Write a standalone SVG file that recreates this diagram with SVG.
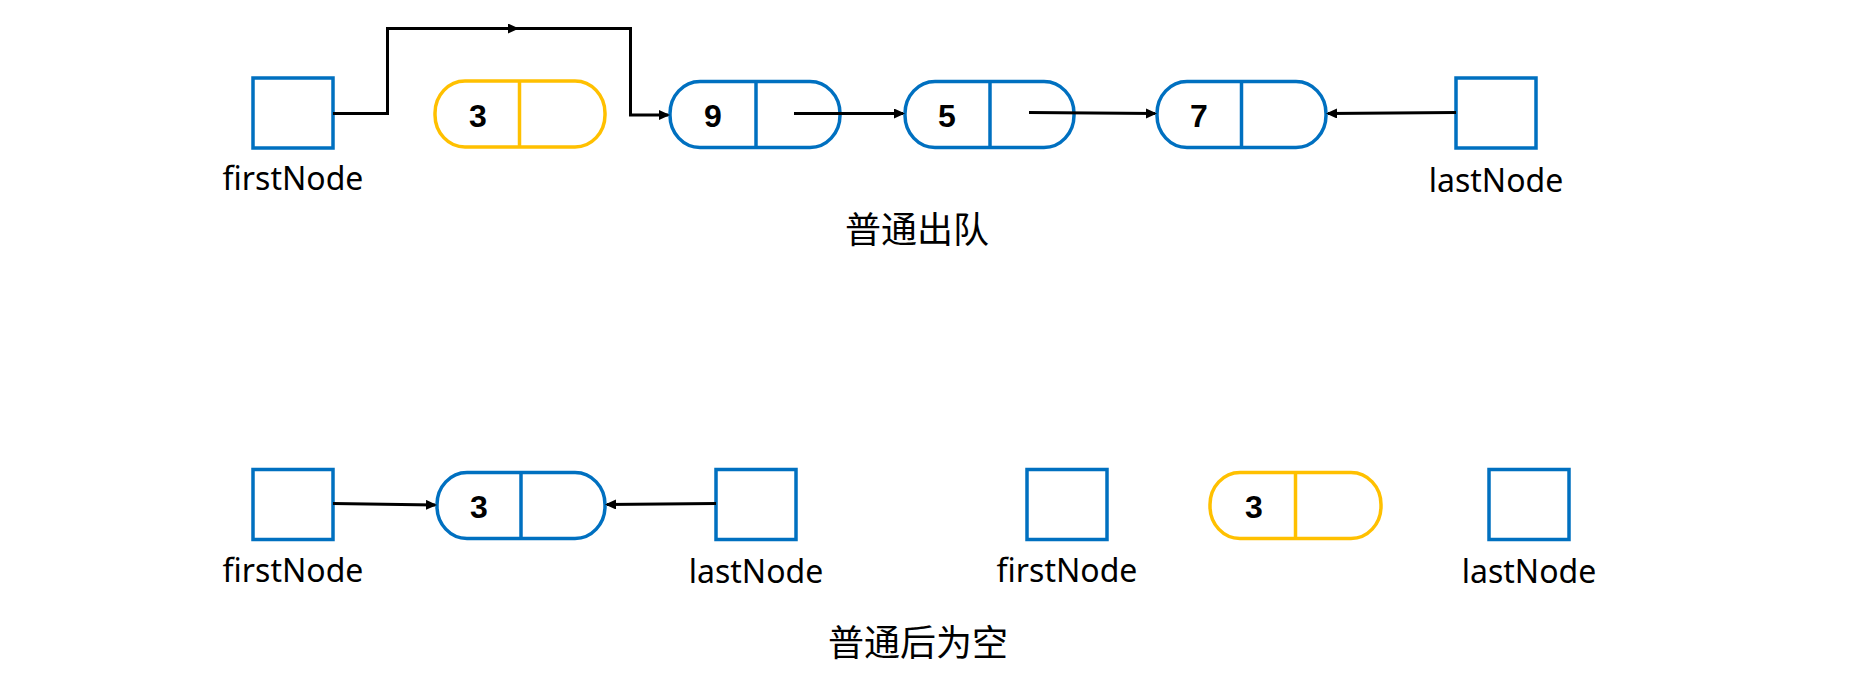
<svg xmlns="http://www.w3.org/2000/svg" width="1860" height="689" viewBox="0 0 1860 689">
<style>
.ptr{fill:#fff;stroke:#0070C0;stroke-width:3.5}
.nb{fill:#fff;stroke:#0070C0;stroke-width:3.5}
.ny{fill:#fff;stroke:#FFC000;stroke-width:3.5}
.dv{stroke-width:3.5}
.num{font-family:"Liberation Sans",Arial,sans-serif;font-size:32px;font-weight:bold;fill:#000;text-anchor:middle}
.lbl{font-family:"Noto Sans","Liberation Sans",sans-serif;font-size:32px;fill:#000;text-anchor:middle}
.cap{font-family:"Noto Sans CJK SC","Noto Sans",sans-serif;font-size:36px;fill:#000;text-anchor:middle}
.con{fill:none;stroke:#000;stroke-width:3;marker-end:url(#ah)}
</style>
<defs>
<marker id="ah" markerUnits="userSpaceOnUse" markerWidth="12" markerHeight="11" refX="9" refY="5" orient="auto">
<path d="M0,0 L11,5 L0,10 z" fill="#000"/>
</marker>
</defs>
<rect width="1860" height="689" fill="#fff"/>

<g id="top-firstNode">
<rect class="ptr" x="253" y="78" width="80" height="70"/>
<text class="lbl" x="293" y="189.5">firstNode</text>
</g>
<g id="top-node3">
<rect class="ny" x="435" y="81" width="170" height="66" rx="30" ry="32"/>
<line class="dv" x1="519.5" y1="81" x2="519.5" y2="147" stroke="#FFC000"/>
<text class="num" x="478" y="127">3</text>
</g>
<g id="top-node9">
<rect class="nb" x="670" y="81.5" width="170" height="66" rx="30" ry="32"/>
<line class="dv" x1="756" y1="81.5" x2="756" y2="147.5" stroke="#0070C0"/>
<text class="num" x="713" y="127">9</text>
</g>
<g id="top-node5">
<rect class="nb" x="905" y="81.5" width="169" height="66" rx="30" ry="32"/>
<line class="dv" x1="990" y1="81.5" x2="990" y2="147.5" stroke="#0070C0"/>
<text class="num" x="947" y="127">5</text>
</g>
<g id="top-node7">
<rect class="nb" x="1157" y="81.5" width="169" height="66" rx="30" ry="32"/>
<line class="dv" x1="1241.5" y1="81.5" x2="1241.5" y2="147.5" stroke="#0070C0"/>
<text class="num" x="1199" y="127">7</text>
</g>
<g id="top-lastNode">
<rect class="ptr" x="1456" y="78" width="80" height="70"/>
<text class="lbl" x="1496" y="192">lastNode</text>
</g>
<g id="caption-top">
<text class="cap" x="917" y="243">普通出队</text>
</g>

<g id="bot-firstNode1">
<rect class="ptr" x="253" y="469.5" width="80" height="70"/>
<text class="lbl" x="293" y="582">firstNode</text>
</g>
<g id="bot-node3">
<rect class="nb" x="437" y="472.5" width="168" height="66" rx="30" ry="32"/>
<line class="dv" x1="521" y1="472.5" x2="521" y2="538.5" stroke="#0070C0"/>
<text class="num" x="479" y="518">3</text>
</g>
<g id="bot-lastNode1">
<rect class="ptr" x="716" y="469.5" width="80" height="70"/>
<text class="lbl" x="756" y="583">lastNode</text>
</g>
<g id="bot-firstNode2">
<rect class="ptr" x="1027" y="469.5" width="80" height="70"/>
<text class="lbl" x="1067" y="582">firstNode</text>
</g>
<g id="bot-node3-yellow">
<rect class="ny" x="1210" y="472.5" width="171" height="66" rx="30" ry="32"/>
<line class="dv" x1="1295.5" y1="472.5" x2="1295.5" y2="538.5" stroke="#FFC000"/>
<text class="num" x="1254" y="518">3</text>
</g>
<g id="bot-lastNode2">
<rect class="ptr" x="1489" y="469.5" width="80" height="70"/>
<text class="lbl" x="1529" y="583">lastNode</text>
</g>
<g id="caption-bottom">
<text class="cap" x="918" y="656">普通后为空</text>
</g>

<g id="connectors">
<polyline class="con" points="333,113.5 387.5,113.5 387.5,28.5 517,28.5"/>
<polyline fill="none" stroke="#000" stroke-width="3" points="517,28.5 630.5,28.5 630.5,115 650,115"/>
<line class="con" x1="650" y1="115" x2="668" y2="115"/>
<line class="con" x1="794" y1="113.5" x2="903" y2="113.5"/>
<line class="con" x1="1029" y1="112.5" x2="1155" y2="113.5"/>
<line class="con" x1="1456" y1="112.5" x2="1328" y2="113.5"/>
<line class="con" x1="333" y1="503.5" x2="435" y2="505"/>
<line class="con" x1="716" y1="503.5" x2="607" y2="504.5"/>
</g>
</svg>
